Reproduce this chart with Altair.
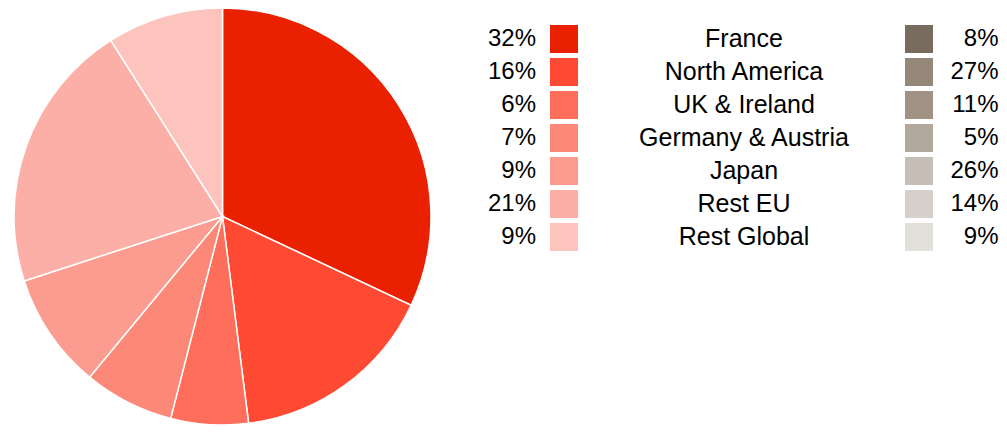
import altair as alt
import pandas as pd

regions = ["France", "North America", "UK & Ireland", "Germany & Austria",
           "Japan", "Rest EU", "Rest Global"]
share_left = [32, 16, 6, 7, 9, 21, 9]
share_right = [8, 27, 11, 5, 26, 14, 9]
reds = ["#E92100", "#FF4A33", "#FF6E5A", "#FC8878", "#FC9B8F", "#FCAFA6", "#FCC4BD"]
greys = ["#786B5F", "#948779", "#A09385", "#B3A89D", "#C6BDB5", "#D6D0CA", "#E3E0DC"]

df = pd.DataFrame({
    "region": regions,
    "a": share_left,
    "b": share_right,
    "idx": list(range(len(regions))),
})

FONT = "Liberation Sans"
FS_PCT = 24
FS_LAB = 25

base = alt.Chart(df)

pie = base.mark_arc(outerRadius=208.5, stroke="white", strokeWidth=1.5).encode(
    theta=alt.Theta("a:Q", stack=True),
    order=alt.Order("idx:Q"),
    color=alt.Color("region:N", scale=alt.Scale(domain=regions, range=reds), legend=None),
    x=alt.value(214.5),
    y=alt.value(208.5),
)

yenc = alt.Y("region:N", scale=alt.Scale(type="point", domain=regions, range=[31, 229], padding=0), axis=None)

left_txt = base.transform_calculate(lab="datum.a + '%'").mark_text(
    align="right", baseline="middle", font=FONT, fontSize=FS_PCT, color="black"
).encode(y=yenc, x=alt.value(528), text="lab:N")

red_sw = base.mark_square(size=784, opacity=1, strokeWidth=0).encode(
    y=yenc, x=alt.value(556),
    color=alt.Color("region:N", scale=alt.Scale(domain=regions, range=reds), legend=None),
)

names = base.mark_text(
    align="center", baseline="middle", font=FONT, fontSize=FS_LAB, color="black"
).encode(y=yenc, x=alt.value(736), text="region:N")

grey_sw = base.mark_square(size=784, opacity=1, strokeWidth=0).encode(
    y=yenc, x=alt.value(911),
    fill=alt.Fill("region:N", scale=alt.Scale(domain=regions, range=greys), legend=None),
)

right_txt = base.transform_calculate(lab="datum.b + '%'").mark_text(
    align="right", baseline="middle", font=FONT, fontSize=FS_PCT, color="black"
).encode(y=yenc, x=alt.value(990.5), text="lab:N")

chart = alt.layer(pie, left_txt, red_sw, names, grey_sw, right_txt).properties(
    width=991, height=417, autosize=alt.AutoSizeParams(type="none"), padding=0
).configure_view(stroke=None)

chart.save("out.html", embed_options={"renderer": "svg", "actions": False})
